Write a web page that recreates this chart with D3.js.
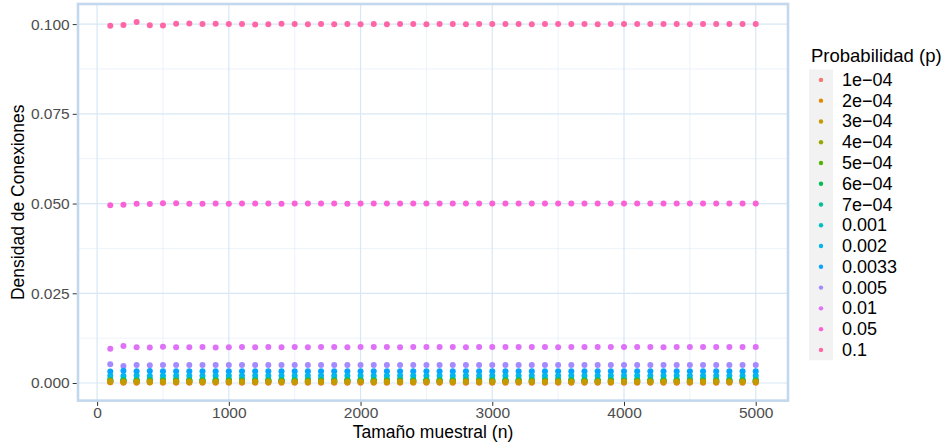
<!DOCTYPE html>
<html>
<head>
<meta charset="utf-8">
<script src="https://cdn.jsdelivr.net/npm/d3@7"></script>
<style>
  body { margin: 0; background: #fff; }
  svg { display: block; font-family: "Liberation Sans", Arial, sans-serif; }
</style>
</head>
<body>
<svg id="chart" width="943" height="443"></svg>
<script>
// sample sizes (x)
const tamanos = [100,200,300,400,500,600,700,800,900,1000,
  1100,1200,1300,1400,1500,1600,1700,1800,1900,2000,
  2100,2200,2300,2400,2500,2600,2700,2800,2900,3000,
  3100,3200,3300,3400,3500,3600,3700,3800,3900,4000,
  4100,4200,4300,4400,4500,4600,4700,4800,4900,5000];

const probLabels = ["1e\u221204","2e\u221204","3e\u221204","4e\u221204","5e\u221204","6e\u221204","7e\u221204",
  "0.001","0.002","0.0033","0.005","0.01","0.05","0.1"];

const colores = ["#F8766D","#E38900","#C49A00","#99A800","#53B400","#00BC56","#00C094",
  "#00BFC4","#00B6EB","#06A4FF","#A58AFF","#DF70F8","#FB61D7","#FF66A8"];

// observed density per sample size, one array per p
const d_1e4 = [0.000202,0.000050,0.000089,0.000113,0.000096,0.000106,0.000095,0.000103,0.000099,0.000101,
  0.000098,0.000102,0.000100,0.000099,0.000101,0.000100,0.000098,0.000101,0.000100,0.000099,
  0.000101,0.000100,0.000100,0.000099,0.000101,0.000100,0.000100,0.000101,0.000099,0.000100,
  0.000100,0.000101,0.000099,0.000100,0.000100,0.000100,0.000101,0.000099,0.000100,0.000100,
  0.000100,0.000100,0.000101,0.000100,0.000099,0.000100,0.000100,0.000100,0.000100,0.000100];
const d_2e4 = [0.000202,0.000226,0.000189,0.000201,0.000205,0.000197,0.000203,0.000199,0.000201,0.000200,
  0.000198,0.000201,0.000200,0.000202,0.000199,0.000200,0.000201,0.000199,0.000200,0.000200,
  0.000201,0.000200,0.000199,0.000200,0.000201,0.000200,0.000200,0.000199,0.000200,0.000201,
  0.000200,0.000200,0.000200,0.000199,0.000200,0.000201,0.000200,0.000200,0.000200,0.000200,
  0.000199,0.000200,0.000200,0.000201,0.000200,0.000200,0.000200,0.000199,0.000200,0.000200];
const d_3e4 = [0.000404,0.000276,0.000312,0.000296,0.000303,0.000299,0.000301,0.000298,0.000302,0.000300,
  0.000301,0.000299,0.000300,0.000301,0.000299,0.000300,0.000300,0.000301,0.000299,0.000300,
  0.000300,0.000301,0.000300,0.000299,0.000300,0.000300,0.000301,0.000300,0.000299,0.000300,
  0.000300,0.000300,0.000301,0.000300,0.000300,0.000299,0.000300,0.000300,0.000300,0.000301,
  0.000300,0.000300,0.000299,0.000300,0.000300,0.000300,0.000300,0.000301,0.000300,0.000300];
const d_4e4 = [0.000404,0.000382,0.000415,0.000395,0.000402,0.000398,0.000403,0.000399,0.000401,0.000400,
  0.000399,0.000401,0.000400,0.000399,0.000401,0.000400,0.000400,0.000399,0.000401,0.000400,
  0.000400,0.000400,0.000401,0.000399,0.000400,0.000400,0.000400,0.000401,0.000400,0.000399,
  0.000400,0.000400,0.000400,0.000401,0.000400,0.000400,0.000399,0.000400,0.000400,0.000400,
  0.000401,0.000400,0.000400,0.000400,0.000399,0.000400,0.000400,0.000400,0.000400,0.000400];
const d_5e4 = [0.000606,0.000477,0.000512,0.000493,0.000504,0.000498,0.000502,0.000499,0.000501,0.000500,
  0.000501,0.000499,0.000500,0.000500,0.000501,0.000499,0.000500,0.000500,0.000501,0.000500,
  0.000499,0.000500,0.000500,0.000500,0.000501,0.000500,0.000499,0.000500,0.000500,0.000500,
  0.000501,0.000500,0.000500,0.000499,0.000500,0.000500,0.000500,0.000501,0.000500,0.000500,
  0.000500,0.000499,0.000500,0.000500,0.000500,0.000501,0.000500,0.000500,0.000500,0.000500];
const d_6e4 = [0.000606,0.000628,0.000587,0.000604,0.000597,0.000602,0.000599,0.000601,0.000600,0.000599,
  0.000601,0.000600,0.000599,0.000600,0.000601,0.000600,0.000600,0.000599,0.000600,0.000601,
  0.000600,0.000600,0.000600,0.000599,0.000600,0.000601,0.000600,0.000600,0.000600,0.000600,
  0.000599,0.000600,0.000601,0.000600,0.000600,0.000600,0.000600,0.000599,0.000600,0.000600,
  0.000601,0.000600,0.000600,0.000600,0.000600,0.000599,0.000600,0.000600,0.000600,0.000600];
const d_7e4 = [0.000606,0.000729,0.000692,0.000706,0.000697,0.000703,0.000698,0.000701,0.000699,0.000700,
  0.000701,0.000700,0.000699,0.000700,0.000701,0.000700,0.000700,0.000699,0.000700,0.000700,
  0.000701,0.000700,0.000700,0.000700,0.000699,0.000700,0.000700,0.000701,0.000700,0.000700,
  0.000700,0.000699,0.000700,0.000700,0.000701,0.000700,0.000700,0.000700,0.000699,0.000700,
  0.000700,0.000700,0.000701,0.000700,0.000700,0.000700,0.000700,0.000700,0.000699,0.000700];
const d_001 = [0.00101,0.00106,0.00097,0.00102,0.00099,0.00101,0.00100,0.00099,0.00100,0.00101,
  0.00100,0.00100,0.00099,0.00100,0.00100,0.00101,0.00100,0.00100,0.00100,0.00099,
  0.00100,0.00100,0.00100,0.00101,0.00100,0.00100,0.00100,0.00100,0.00099,0.00100,
  0.00100,0.00100,0.00100,0.00100,0.00101,0.00100,0.00100,0.00100,0.00100,0.00100,
  0.00099,0.00100,0.00100,0.00100,0.00100,0.00100,0.00101,0.00100,0.00100,0.00100];
const d_002 = [0.00202,0.00193,0.00206,0.00198,0.00201,0.00199,0.00201,0.00200,0.00199,0.00200,
  0.00201,0.00200,0.00200,0.00199,0.00200,0.00200,0.00201,0.00200,0.00200,0.00200,
  0.00199,0.00200,0.00200,0.00200,0.00201,0.00200,0.00200,0.00200,0.00200,0.00199,
  0.00200,0.00200,0.00201,0.00200,0.00200,0.00200,0.00200,0.00200,0.00199,0.00200,
  0.00200,0.00200,0.00200,0.00201,0.00200,0.00200,0.00200,0.00200,0.00200,0.00200];
const d_0033 = [0.00323,0.00342,0.00328,0.00333,0.00329,0.00331,0.00330,0.00331,0.00329,0.00330,
  0.00330,0.00331,0.00330,0.00330,0.00329,0.00330,0.00330,0.00331,0.00330,0.00330,
  0.00330,0.00330,0.00329,0.00330,0.00330,0.00330,0.00331,0.00330,0.00330,0.00330,
  0.00330,0.00329,0.00330,0.00330,0.00330,0.00330,0.00330,0.00331,0.00330,0.00330,
  0.00330,0.00330,0.00330,0.00329,0.00330,0.00330,0.00330,0.00330,0.00330,0.00330];
const d_005 = [0.00525,0.00472,0.00503,0.00497,0.00502,0.00499,0.00501,0.00500,0.00499,0.00500,
  0.00501,0.00500,0.00500,0.00499,0.00500,0.00501,0.00500,0.00500,0.00500,0.00499,
  0.00500,0.00500,0.00501,0.00500,0.00500,0.00500,0.00500,0.00499,0.00500,0.00500,
  0.00500,0.00501,0.00500,0.00500,0.00500,0.00500,0.00499,0.00500,0.00500,0.00500,
  0.00500,0.00500,0.00500,0.00501,0.00500,0.00500,0.00500,0.00500,0.00500,0.00500];
const d_01 = [0.00952,0.01032,0.00996,0.00989,0.01012,0.00998,0.00997,0.01001,0.00992,0.00996,
  0.01002,0.00998,0.01001,0.00999,0.01000,0.00998,0.01001,0.01000,0.00999,0.01000,
  0.01001,0.01000,0.00999,0.01000,0.01000,0.01001,0.01000,0.00999,0.01000,0.01000,
  0.01000,0.01001,0.01000,0.01000,0.00999,0.01000,0.01000,0.01000,0.01001,0.01000,
  0.01000,0.01000,0.00999,0.01000,0.01000,0.01000,0.01000,0.01001,0.01000,0.01000];
const d_05 = [0.04956,0.04968,0.04994,0.04991,0.05012,0.05006,0.04993,0.04998,0.05005,0.04997,
  0.05003,0.04999,0.05001,0.04998,0.05002,0.05000,0.04999,0.05001,0.04998,0.05000,
  0.05001,0.05000,0.04999,0.05000,0.05001,0.05000,0.04999,0.05000,0.05000,0.05001,
  0.05000,0.04999,0.05000,0.05000,0.05001,0.05000,0.05000,0.04999,0.05000,0.05000,
  0.05000,0.05001,0.05000,0.05000,0.04999,0.05000,0.05000,0.05000,0.05000,0.05000];
const d_1 = [0.09954,0.09972,0.10058,0.09968,0.09958,0.10010,0.10018,0.10002,0.10012,0.10004,
  0.10001,0.09988,0.09994,0.10008,0.10002,0.09996,0.10003,0.09998,0.10004,0.09999,
  0.10001,0.09997,0.10002,0.10000,0.09999,0.10001,0.10000,0.09998,0.10001,0.10000,
  0.10000,0.10001,0.09999,0.10000,0.10000,0.10001,0.10000,0.09999,0.10000,0.10000,
  0.10000,0.10000,0.10001,0.10000,0.09999,0.10000,0.10000,0.10000,0.10000,0.10000];

const densidades = [d_1e4,d_2e4,d_3e4,d_4e4,d_5e4,d_6e4,d_7e4,d_001,d_002,d_0033,d_005,d_01,d_05,d_1];

const xTicks = [0,1000,2000,3000,4000,5000];
const xMinor = [500,1500,2500,3500,4500];
const yTicks = [0,0.025,0.05,0.075,0.1];
const yMinor = [0.0125,0.0375,0.0625,0.0875];

// panel
const panel = {left: 78, right: 788, top: 4, bottom: 400.6};

const x = d3.scaleLinear().domain([-145, 5245]).range([panel.left, panel.right]);
const y = d3.scaleLinear().domain([-0.0049, 0.1056]).range([panel.bottom, panel.top]);

const svg = d3.select("#chart");

// grid
const grid = svg.append("g");
grid.selectAll(".xminor").data(xMinor).enter().append("line")
  .attr("x1", d => x(d)).attr("x2", d => x(d))
  .attr("y1", panel.top).attr("y2", panel.bottom)
  .attr("stroke", "#e4eef8").attr("stroke-width", 0.7);
grid.selectAll(".yminor").data(yMinor).enter().append("line")
  .attr("y1", d => y(d)).attr("y2", d => y(d))
  .attr("x1", panel.left).attr("x2", panel.right)
  .attr("stroke", "#e4eef8").attr("stroke-width", 0.7);
grid.selectAll(".xmajor").data(xTicks).enter().append("line")
  .attr("x1", d => x(d)).attr("x2", d => x(d))
  .attr("y1", panel.top).attr("y2", panel.bottom)
  .attr("stroke", "#d8e7f5").attr("stroke-width", 1.2);
grid.selectAll(".ymajor").data(yTicks).enter().append("line")
  .attr("y1", d => y(d)).attr("y2", d => y(d))
  .attr("x1", panel.left).attr("x2", panel.right)
  .attr("stroke", "#d8e7f5").attr("stroke-width", 1.2);

// points: larger p first, the three smallest last (as in the reference)
const drawOrder = [13,12,11,10,9,8,7,6,5,4,3,0,1,2];
const puntos = [];
drawOrder.forEach(k => {
  densidades[k].forEach((v, i) => puntos.push({n: tamanos[i], v: v, k: k}));
});
svg.append("g").selectAll("circle").data(puntos).enter().append("circle")
  .attr("cx", d => x(d.n))
  .attr("cy", d => y(d.v))
  .attr("r", 3)
  .attr("fill", d => colores[d.k]);

// panel border
svg.append("rect")
  .attr("x", panel.left).attr("y", panel.top)
  .attr("width", panel.right - panel.left).attr("height", panel.bottom - panel.top)
  .attr("fill", "none").attr("stroke", "#c3d8ed").attr("stroke-width", 2.6);

// axes
const xAxis = d3.axisBottom(x).tickValues(xTicks).tickFormat(d3.format("d")).tickSize(4).tickPadding(1);
const yAxis = d3.axisLeft(y).tickValues(yTicks).tickFormat(d3.format(".3f")).tickSize(4).tickPadding(3);

const gx = svg.append("g").attr("transform", `translate(0,${panel.bottom + 1.3})`).call(xAxis);
const gy = svg.append("g").attr("transform", `translate(${panel.left - 1.3},0)`).call(yAxis);
[gx, gy].forEach(g => {
  g.select(".domain").remove();
  g.selectAll(".tick line").attr("stroke", "#333333").attr("stroke-width", 1);
  g.selectAll(".tick text").attr("fill", "#4d4d4d").attr("font-size", 15.5)
    .attr("font-family", "'Liberation Sans', Arial, sans-serif");
});

// axis titles
svg.append("text")
  .attr("x", (panel.left + panel.right) / 2).attr("y", 438)
  .attr("text-anchor", "middle").attr("font-size", 17.5).attr("fill", "#000")
  .text("Tamaño muestral (n)");
svg.append("text")
  .attr("transform", `translate(24,${(panel.top + panel.bottom) / 2}) rotate(-90)`)
  .attr("text-anchor", "middle").attr("font-size", 17.5).attr("fill", "#000")
  .text("Densidad de Conexiones");

// legend
const leg = svg.append("g");
const keyTop = 69.5, keyH = 20.77;
leg.append("text").attr("x", 811).attr("y", 62).attr("font-size", 18.5).attr("fill", "#000")
  .text("Probabilidad (p)");
leg.append("rect").attr("x", 809).attr("y", keyTop)
  .attr("width", 24).attr("height", keyH * probLabels.length)
  .attr("fill", "#f2f2f2");
const items = leg.selectAll(".item").data(probLabels).enter().append("g")
  .attr("transform", (d, i) => `translate(0,${keyTop + keyH * i + keyH / 2})`);
items.append("circle").attr("cx", 821).attr("cy", 0).attr("r", 2.2)
  .attr("fill", (d, i) => colores[i]);
items.append("text").attr("x", 842).attr("y", 6).attr("font-size", 18).attr("fill", "#000")
  .text(d => d);
</script>
</body>
</html>
